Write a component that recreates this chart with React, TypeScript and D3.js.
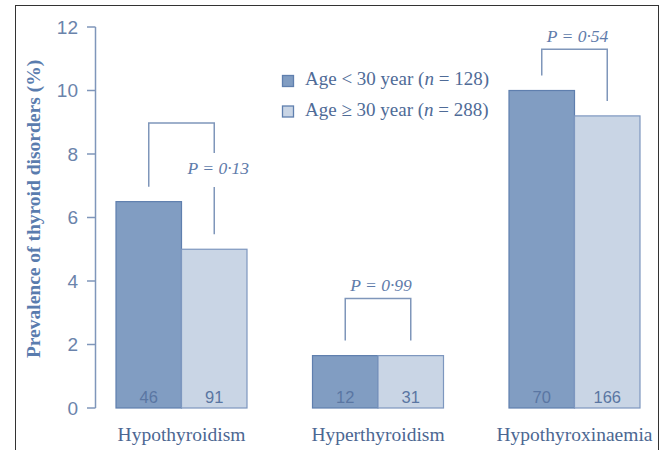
import * as d3 from "d3";
import { useEffect } from "react";

// categories and series
const categories = ["Hypothyroidism", "Hyperthyroidism", "Hypothyroxinaemia"];
const series = ["young", "old"];
const seriesLabels = ["Age < 30 year", "Age \u2265 30 year"];
const seriesN = [128, 288];

// prevalence (%) per category, one array per age group
const youngValues = [6.5, 1.65, 10.0];
const oldValues = [5.0, 1.65, 9.2];
// case counts printed at the foot of each bar
const youngCounts = [46, 12, 70];
const oldCounts = [91, 31, 166];

// P values and the level (in %) where each bracket is drawn
const pValues = ["0\u00b713", "0\u00b799", "0\u00b754"];
const bracketLevels = [8.98, 3.45, 11.3];

const yTicks = [0, 2, 4, 6, 8, 10, 12];

const W = 663;
const H = 450;

const serif = "'Liberation Serif', 'Times New Roman', serif";
const sans = "'Liberation Sans', Arial, sans-serif";
const axisColor = "#7f96ba";
const darkFill = "#819dc2";
const darkStroke = "#5f7fae";
const lightFill = "#c9d5e5";
const lightStroke = "#7d97bf";

export default function App() {
  useEffect(() => {
    document.body.style.margin = "0";
  }, []);

  const y = d3.scaleLinear().domain([0, 12]).range([408, 27]);

  // 196.5px per group, 131px of bars per group
  const x = d3
    .scaleBand<string>()
    .domain(categories)
    .range([83.25, 672.75])
    .paddingInner(1 / 3)
    .paddingOuter(1 / 6);
  const xs = d3.scaleBand<string>().domain(series).range([0, x.bandwidth()]);

  const values = [youngValues, oldValues];
  const counts = [youngCounts, oldCounts];
  const fills = [darkFill, lightFill];
  const strokes = [darkStroke, lightStroke];
  const legGap = 15;

  return (
    <svg width={W} height={H} viewBox={`0 0 ${W} ${H}`} style={{ display: "block" }}>
      <rect x={0} y={0} width={W} height={H} fill="#fff" />
      <rect x={15.5} y={5.5} width={643} height={460} fill="none" stroke="#333" strokeWidth={1} />

      {/* y axis */}
      <line x1={95.5} x2={95.5} y1={y(12)} y2={y(0)} stroke={axisColor} strokeWidth={1.5} />
      {yTicks.map((t) => (
        <g key={t}>
          <line x1={87} x2={95.5} y1={y(t)} y2={y(t)} stroke={axisColor} strokeWidth={1.5} />
          <text
            x={78}
            y={y(t)}
            dy="0.36em"
            textAnchor="end"
            fontFamily={sans}
            fontSize={19}
            fill="#6a83ab"
          >
            {t}
          </text>
        </g>
      ))}
      <text
        transform="translate(40,209) rotate(-90)"
        textAnchor="middle"
        fontFamily={serif}
        fontWeight="bold"
        fontSize={19.5}
        fill="#5a7cae"
      >
        Prevalence of thyroid disorders (%)
      </text>

      {/* bars */}
      {categories.map((c, i) => (
        <g key={c}>
          {series.map((s, j) => {
            const bx = (x(c) ?? 0) + (xs(s) ?? 0);
            const top = y(values[j][i]);
            return (
              <g key={s}>
                <rect
                  x={bx}
                  y={top}
                  width={xs.bandwidth()}
                  height={y(0) - top}
                  fill={fills[j]}
                  stroke={strokes[j]}
                  strokeWidth={1.2}
                />
                <text
                  x={bx + xs.bandwidth() / 2}
                  y={y(0) - 5.5}
                  textAnchor="middle"
                  fontFamily={sans}
                  fontSize={16.5}
                  fill="#5a76a2"
                >
                  {counts[j][i]}
                </text>
              </g>
            );
          })}
          <text
            x={(x(c) ?? 0) + x.bandwidth() / 2}
            y={441}
            textAnchor="middle"
            fontFamily={serif}
            fontSize={19.5}
            fill="#4c6792"
          >
            {c}
          </text>
        </g>
      ))}

      {/* significance brackets */}
      {categories.map((c, i) => {
        const x1 = (x(c) ?? 0) + (xs(series[0]) ?? 0) + xs.bandwidth() / 2;
        const x2 = (x(c) ?? 0) + (xs(series[1]) ?? 0) + xs.bandwidth() / 2;
        const top = y(bracketLevels[i]);
        const b1 = y(youngValues[i]) - legGap;
        const b2 = y(oldValues[i]) - legGap;
        const onLeg = i === 0;
        const labelY = onLeg ? top + 51 : top - 7;
        const labelX = onLeg ? x2 + 4 : (x1 + x2) / 2 + 3;
        return (
          <g key={c} fill="none" stroke={axisColor} strokeWidth={1.5}>
            <path d={`M${x1},${b1}V${top}H${x2}V${onLeg ? labelY - 21 : b2}`} />
            {onLeg && <path d={`M${x2},${labelY + 13}V${b2}`} />}
            <text
              x={labelX}
              y={labelY}
              textAnchor="middle"
              fontFamily={serif}
              fontStyle="italic"
              fontSize={17.5}
              fill="#5f7cab"
              stroke="none"
            >
              P = {pValues[i]}
            </text>
          </g>
        );
      })}

      {/* legend */}
      {series.map((s, j) => (
        <g key={s} transform={`translate(282,${75 + j * 30.5})`}>
          <rect x={0.5} y={0.5} width={11} height={11} fill={fills[j]} stroke={darkStroke} strokeWidth={1.3} />
          <text x={23} y={10} fontFamily={serif} fontSize={19} fill="#4f6b97">
            {seriesLabels[j]} (<tspan fontStyle="italic">n</tspan> = {seriesN[j]})
          </text>
        </g>
      ))}
    </svg>
  );
}
